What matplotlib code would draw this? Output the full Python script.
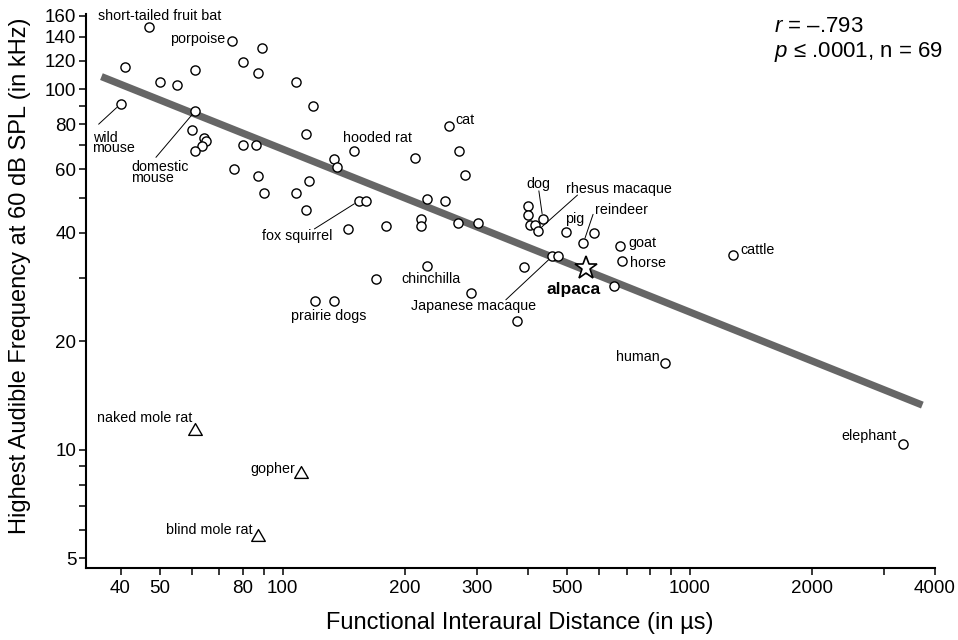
"""
plot.py - highest audible frequency vs. functional interaural distance
(log-log scatter, regression line, alpaca highlighted).
"""

import matplotlib
matplotlib.use("Agg")
import matplotlib.pyplot as plt
from matplotlib.path import Path
from matplotlib.ticker import FixedLocator, FixedFormatter, NullLocator

# ── Data ─────────────────────────────────────────────────────────────────────
# circles: mammals used in the regression (name "" = unlabeled)
species = [
    "short-tailed fruit bat", "", "wild mouse", "", "", "", "domestic mouse",
    "", "", "", "", "", "porpoise", "", "", "", "", "", "", "", "", "", "",
    "", "", "", "", "", "", "hooded rat", "fox squirrel", "", "", "", "",
    "", "prairie dogs", "", "", "", "", "chinchilla", "", "cat", "", "", "",
    "", "", "", "", "dog", "", "", "rhesus macaque", "pig", "reindeer", "",
    "goat", "horse", "cattle", "Japanese macaque", "", "", "", "", "human",
    "elephant",
]
interaural_us = [
    47, 41, 40, 50, 55, 61, 61, 60, 64, 65, 63.5, 61, 75, 89, 80, 87, 80, 86,
    76, 87, 90, 108, 119, 114, 116, 108, 114, 134, 136, 150, 154, 160, 145,
    180, 170, 120, 134, 211, 226, 219, 219, 226, 251, 257, 272, 281, 270, 302,
    290, 400, 400, 436, 406, 416, 423, 498, 548, 581, 675, 684, 1280, 460, 474,
    652, 392, 377, 872, 3350,
]
high_freq_khz = [
    149, 115, 91, 105, 103, 113, 87, 77, 73.4, 72, 69.6, 67.4, 136, 130, 119,
    111, 70, 70, 60, 57.6, 51.6, 105, 90, 75, 55.6, 51.7, 46.2, 64, 61, 67.3,
    49, 49, 41, 41.8, 29.7, 25.9, 25.9, 64.4, 49.6, 43.7, 41.7, 32.3, 48.9,
    78.9, 67.4, 57.7, 42.5, 42.5, 27.3, 47.5, 44.7, 43.7, 42, 42, 40.5, 40.2,
    37.4, 39.9, 36.7, 33.3, 34.7, 34.4, 34.4, 28.5, 32.2, 22.8, 17.4, 10.4,
]

# triangles: subterranean rodents (not in the regression)
subterranean = ["naked mole rat", "gopher", "blind mole rat"]
subterranean_us = [61, 111, 87]
subterranean_khz = [11.4, 8.7, 5.8]

# star: alpaca
alpaca_us = [556]
alpaca_khz = [31.9]

# regression line end points
fit_us = [35.9, 3730]
fit_khz = [108.4, 13.3]

x_ticks = [40, 50, 60, 70, 80, 90, 100, 200, 300, 400, 500, 600, 700, 800,
           900, 1000, 2000, 3000, 4000]
x_tick_labels = ["40", "50", "", "", "80", "", "100", "200", "300", "", "500",
                 "", "", "", "", "1000", "2000", "", "4000"]
y_ticks = [5, 6, 7, 8, 9, 10, 20, 30, 40, 50, 60, 70, 80, 90, 100, 120, 140, 160]
y_tick_labels = ["5", "", "", "", "", "10", "20", "", "40", "", "60", "", "80",
                 "", "100", "120", "140", "160"]

# ── Label layout: name -> (text, dx px, dy px, ha, leader start or None) ─────
LABELS = {
    "short-tailed fruit bat": ("short-tailed fruit bat", -51, 11, "left", None),
    "porpoise": ("porpoise", -6, 2.4, "right", None),
    "wild mouse": ("wild\nmouse", -28, -39, "left", (-21.9, -20.2)),
    "domestic mouse": ("domestic\nmouse", -63.8, -61.5, "left", (-39.2, -46.3)),
    "hooded rat": ("hooded rat", -10.8, 13, "left", None),
    "cat": ("cat", 6, 6, "left", None),
    "fox squirrel": ("fox squirrel", -26.2, -34.7, "right", (-44.5, -28)),
    "chinchilla": ("chinchilla", 4, -12.4, "center", None),
    "prairie dogs": ("prairie dogs", -5.2, -15, "center", None),
    "Japanese macaque": ("Japanese macaque", -15.8, -49.5, "right", (-46.5, -43.5)),
    "dog": ("dog", -4.3, 34.4, "center", (-4, 28)),
    "rhesus macaque": ("rhesus macaque", 28, 41.7, "left", (40, 35.7)),
    "pig": ("pig", 8.2, 13, "center", None),
    "reindeer": ("reindeer", 11.5, 33.2, "left", (9.8, 28.9)),
    "goat": ("goat", 8.5, 2.7, "left", None),
    "horse": ("horse", 7.3, -1.2, "left", None),
    "cattle": ("cattle", 6.7, 5, "left", None),
    "human": ("human", -5.7, 6.3, "right", None),
    "elephant": ("elephant", -6.4, 7.3, "right", None),
    "naked mole rat": ("naked mole rat", -2.7, 11, "right", None),
    "gopher": ("gopher", -6, 3, "right", None),
    "blind mole rat": ("blind mole rat", -5, 5, "right", None),
}

plt.rcParams["font.family"] = ["Liberation Sans", "DejaVu Sans"]
plt.rcParams["mathtext.fontset"] = "custom"
plt.rcParams["mathtext.rm"] = "Liberation Sans"
plt.rcParams["mathtext.it"] = "Liberation Sans:italic"

LABEL_SIZE = 10.3

# open triangle, a bit wider than tall
TRIANGLE = Path([(-1, -0.866), (1, -0.866), (0, 0.866), (-1, -0.866)],
                closed=True)


def add_label(ax, name, x, y):
    text, dx, dy, ha, leader = LABELS[name]
    ax.annotate(text, xy=(x, y), xytext=(dx, dy), textcoords="offset pixels",
                ha=ha, va="center", fontsize=LABEL_SIZE, linespacing=0.72,
                zorder=6)
    if leader is not None:
        ax.annotate("", xy=(x, y), xytext=leader, textcoords="offset pixels",
                    arrowprops=dict(arrowstyle="-", color="black", lw=0.7,
                                    shrinkA=0, shrinkB=3.8),
                    zorder=6)


def main() -> None:
    fig = plt.figure(figsize=(9.58, 6.40), dpi=100)
    ax = fig.add_axes([86 / 958, 1 - 568.3 / 640, 848.7 / 958, 554.6 / 640])
    ax.set_xscale("log")
    ax.set_yscale("log")
    ax.set_xlim(32.9, 4000)
    ax.set_ylim(4.69, 162)

    # regression line
    ax.plot(fit_us, fit_khz, color="#666666", lw=5.2, solid_capstyle="butt",
            zorder=2)

    ax.plot(interaural_us, high_freq_khz, "o", ms=6.6, mfc="white",
            mec="black", mew=1.0, zorder=3)
    ax.plot(subterranean_us, subterranean_khz, marker=TRIANGLE, ls="none",
            ms=9.8, mfc="white", mec="black", mew=1.0, zorder=3)
    ax.plot(alpaca_us, alpaca_khz, "*", ms=17, mfc="white", mec="black",
            mew=1.2, zorder=4)

    for name, x, y in zip(species, interaural_us, high_freq_khz):
        if name:
            add_label(ax, name, x, y)
    for name, x, y in zip(subterranean, subterranean_us, subterranean_khz):
        add_label(ax, name, x, y)
    ax.annotate("alpaca", xy=(alpaca_us[0], alpaca_khz[0]), xytext=(-12.3, -21.7),
                textcoords="offset pixels", ha="center", va="center",
                fontsize=12.5, fontweight="bold", zorder=6)

    # axes styling
    for side in ("top", "right"):
        ax.spines[side].set_visible(False)
    for side in ("left", "bottom"):
        ax.spines[side].set_linewidth(1.5)
    ax.xaxis.set_major_locator(FixedLocator(x_ticks))
    ax.xaxis.set_major_formatter(FixedFormatter(x_tick_labels))
    ax.xaxis.set_minor_locator(NullLocator())
    ax.yaxis.set_major_locator(FixedLocator(y_ticks))
    ax.yaxis.set_major_formatter(FixedFormatter(y_tick_labels))
    ax.yaxis.set_minor_locator(NullLocator())
    ax.tick_params(axis="both", which="major", direction="out", length=5,
                   width=1.1, labelsize=13.5)
    ax.tick_params(axis="x", pad=3.5)
    ax.tick_params(axis="y", pad=2)

    fig.text(519.5 / 958, 1 - 623 / 640, "Functional Interaural Distance (in µs)",
             ha="center", va="center", fontsize=17)
    fig.text(20 / 958, 1 - 276 / 640,
             "Highest Audible Frequency at 60 dB SPL (in kHz)",
             ha="center", va="center", rotation=90, fontsize=17)

    fig.text(774 / 958, 1 - 27 / 640, "$r$ = \u2013.793", ha="left",
             va="center", fontsize=16)
    fig.text(774 / 958, 1 - 52 / 640, "$p$ \u2264 .0001, n = 69", ha="left",
             va="center", fontsize=16)

    fig.savefig("out.png", dpi=100)


if __name__ == "__main__":
    main()
